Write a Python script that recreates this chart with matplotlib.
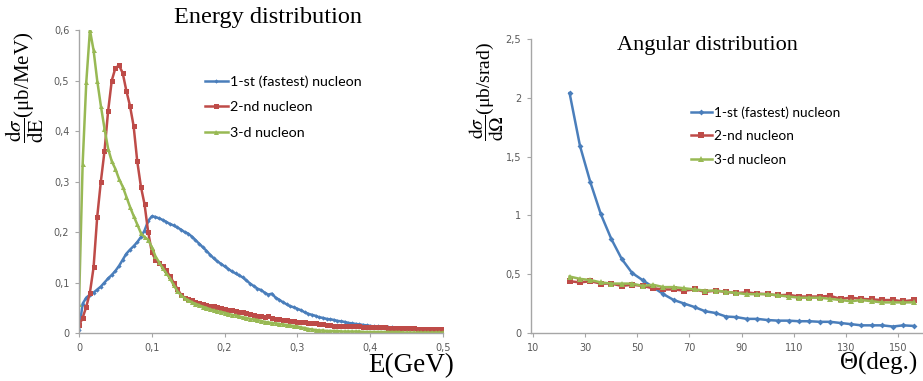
import numpy as np
import matplotlib
matplotlib.use("Agg")
import matplotlib.pyplot as plt

plt.rcParams["mathtext.fontset"] = "stix"

BLUE = "#4A7EBB"
RED = "#BE4B48"
GREEN = "#98B954"
AXIS_GRAY = "#A6A6A6"
TICK_TXT = "#595959"

series_names = ["1-st (fastest) nucleon", "2-nd nucleon", "3-d nucleon"]

# ---- energy distribution, 5 MeV bins from 0 to 0.5 GeV ----
energy_gev = np.round(np.arange(101) * 0.005, 3)

energy_first = [
    0.006, 0.058, 0.070, 0.076, 0.080, 0.086, 0.092, 0.100, 0.108, 0.115,
    0.123, 0.133, 0.145, 0.157, 0.165, 0.172, 0.180, 0.190, 0.203, 0.222,
    0.231, 0.230, 0.227, 0.224, 0.220, 0.216, 0.213, 0.209, 0.205, 0.200,
    0.197, 0.191, 0.184, 0.177, 0.170, 0.163, 0.155, 0.148, 0.142, 0.137,
    0.132, 0.127, 0.122, 0.118, 0.114, 0.110, 0.104, 0.098, 0.093, 0.088,
    0.085, 0.080, 0.076, 0.078, 0.070, 0.066, 0.061, 0.057, 0.053, 0.051,
    0.048, 0.045, 0.041, 0.038, 0.036, 0.034, 0.031, 0.030, 0.028, 0.027,
    0.026, 0.024, 0.023, 0.022, 0.020, 0.019, 0.018, 0.017, 0.016, 0.015,
    0.014, 0.013, 0.013, 0.012, 0.012, 0.011, 0.011, 0.010, 0.010, 0.010,
    0.009, 0.009, 0.009, 0.008, 0.008, 0.008, 0.007, 0.007, 0.007, 0.006,
    0.006,
]

energy_second = [
    0.015, 0.030, 0.052, 0.080, 0.130, 0.230, 0.300, 0.360, 0.440, 0.500,
    0.525, 0.530, 0.515, 0.480, 0.450, 0.410, 0.340, 0.290, 0.255, 0.200,
    0.160, 0.145, 0.138, 0.132, 0.124, 0.112, 0.100, 0.088, 0.076, 0.070,
    0.067, 0.065, 0.062, 0.060, 0.058, 0.056, 0.054, 0.053, 0.051, 0.050,
    0.048, 0.046, 0.045, 0.044, 0.042, 0.041, 0.040, 0.038, 0.036, 0.034,
    0.033, 0.032, 0.033, 0.030, 0.028, 0.027, 0.026, 0.025, 0.024, 0.023,
    0.022, 0.022, 0.021, 0.020, 0.020, 0.019, 0.018, 0.017, 0.016, 0.015,
    0.014, 0.014, 0.014, 0.014, 0.013, 0.013, 0.013, 0.013, 0.012, 0.012,
    0.012, 0.012, 0.011, 0.011, 0.011, 0.010, 0.010, 0.010, 0.010, 0.009,
    0.009, 0.009, 0.009, 0.008, 0.008, 0.008, 0.008, 0.007, 0.007, 0.007,
    0.007,
]

energy_third = [
    0.058, 0.335, 0.497, 0.600, 0.560, 0.500, 0.450, 0.405, 0.365, 0.340,
    0.325, 0.305, 0.290, 0.270, 0.250, 0.232, 0.215, 0.198, 0.190, 0.185,
    0.170, 0.152, 0.140, 0.128, 0.118, 0.108, 0.095, 0.083, 0.075, 0.069,
    0.065, 0.061, 0.058, 0.055, 0.052, 0.050, 0.047, 0.045, 0.043, 0.042,
    0.040, 0.038, 0.036, 0.035, 0.033, 0.031, 0.030, 0.028, 0.027, 0.026,
    0.024, 0.022, 0.021, 0.020, 0.019, 0.018, 0.017, 0.016, 0.015, 0.014,
    0.013, 0.011, 0.010, 0.008, 0.007, 0.006, 0.005, 0.005, 0.004, 0.004,
    0.004, 0.004, 0.003, 0.003, 0.003, 0.003, 0.003, 0.003, 0.002, 0.002,
    0.002, 0.002, 0.002, 0.002, 0.002, 0.002, 0.002, 0.002, 0.002, 0.001,
    0.001, 0.001, 0.001, 0.001, 0.001, 0.001, 0.001, 0.001, 0.001, 0.001,
    0.001,
]

# ---- angular distribution, 4 degree steps ----
theta_deg = [24, 28, 32, 36, 40, 44, 48, 52, 56, 60, 64, 68, 72, 76, 80, 84, 88,
             92, 96, 100, 104, 108, 112, 116, 120, 124, 128, 132, 136, 140, 144,
             148, 152, 156]

angular_first = [2.04, 1.59, 1.28, 1.01, 0.80, 0.63, 0.51, 0.45, 0.39, 0.33,
                 0.28, 0.25, 0.22, 0.185, 0.17, 0.14, 0.135, 0.12, 0.12, 0.11,
                 0.105, 0.105, 0.10, 0.10, 0.095, 0.095, 0.085, 0.075, 0.065,
                 0.065, 0.065, 0.055, 0.065, 0.06]

angular_second = [0.44, 0.43, 0.44, 0.42, 0.42, 0.40, 0.41, 0.40, 0.38, 0.37,
                  0.37, 0.36, 0.37, 0.35, 0.36, 0.35, 0.34, 0.345, 0.335, 0.33,
                  0.32, 0.325, 0.31, 0.31, 0.31, 0.315, 0.29, 0.30, 0.29, 0.285,
                  0.28, 0.28, 0.27, 0.28]

angular_third = [0.48, 0.46, 0.45, 0.43, 0.42, 0.42, 0.42, 0.40, 0.41, 0.39,
                 0.39, 0.38, 0.37, 0.36, 0.36, 0.35, 0.34, 0.33, 0.33, 0.33,
                 0.32, 0.31, 0.30, 0.30, 0.30, 0.29, 0.28, 0.27, 0.28, 0.27,
                 0.26, 0.26, 0.26, 0.26]

energy_ticks = [0, 0.1, 0.2, 0.3, 0.4, 0.5]
energy_yticks = [0, 0.1, 0.2, 0.3, 0.4, 0.5, 0.6]
angle_ticks = [10, 30, 50, 70, 90, 110, 130, 150]
angle_yticks = [0, 0.5, 1, 1.5, 2, 2.5]


def comma(v):
    s = ("%g" % v)
    return s.replace(".", ",")


def style_axes(ax):
    for side in ("top", "right"):
        ax.spines[side].set_visible(False)
    for side in ("left", "bottom"):
        ax.spines[side].set_color(AXIS_GRAY)
        ax.spines[side].set_linewidth(1.0)
    ax.tick_params(axis="both", direction="out", length=3, width=0.8,
                   color=AXIS_GRAY, labelcolor=TICK_TXT, labelsize=7, pad=4)


fig = plt.figure(figsize=(9.23, 3.81), dpi=100)

serif = ["Liberation Serif", "DejaVu Serif"]

# ---------------- energy panel ----------------
ax1 = fig.add_axes([0.0856, 0.126, 0.3944, 0.795])
style_axes(ax1)
line_kw = dict(linewidth=1.8, markeredgewidth=0)
ax1.plot(energy_gev, energy_first, color=BLUE, marker="D", markersize=2.2,
         label=series_names[0], **line_kw)
ax1.plot(energy_gev, energy_second, color=RED, marker="s", markersize=3.6,
         label=series_names[1], **line_kw)
ax1.plot(energy_gev, energy_third, color=GREEN, marker="^", markersize=3.6,
         label=series_names[2], **line_kw)
ax1.set_xlim(0, 0.5)
ax1.set_ylim(0, 0.6)
ax1.set_xticks(energy_ticks)
ax1.set_xticklabels([comma(v) for v in energy_ticks])
ax1.set_yticks(energy_yticks)
ax1.set_yticklabels([comma(v) for v in energy_yticks])
ax1.legend(loc="upper left", bbox_to_anchor=(0.33, 0.87), frameon=False,
           prop={"family": "Lato", "size": 10.3}, handlelength=1.6,
           handletextpad=0.15, labelspacing=0.95, borderaxespad=0)

fig.text(0.290, 0.955, "Energy distribution", ha="center", va="center",
         family=serif, fontsize=17.5)
fig.text(0.446, 0.040, "E(GeV)", ha="center", va="center",
         family=serif, fontsize=19.5)
fig.text(0.027, 0.77, r"$\dfrac{\mathrm{d}\sigma}{\mathrm{dE}}$(μb/MeV)",
         ha="center", va="center", rotation=90, family=serif, fontsize=15)

# ---------------- angular panel ----------------
ax2 = fig.add_axes([0.575, 0.126, 0.4236, 0.772])
style_axes(ax2)
ax2.plot(theta_deg, angular_first, color=BLUE, marker="D", markersize=3,
         label=series_names[0], **line_kw)
ax2.plot(theta_deg, angular_second, color=RED, marker="s", markersize=4.5,
         label=series_names[1], **line_kw)
ax2.plot(theta_deg, angular_third, color=GREEN, marker="^", markersize=4.5,
         label=series_names[2], **line_kw)
ax2.set_xlim(9.1, 159.1)
ax2.set_ylim(0, 2.5)
ax2.set_xticks(angle_ticks)
ax2.set_xticklabels([str(v) for v in angle_ticks])
ax2.set_yticks(angle_yticks)
ax2.set_yticklabels([comma(v) for v in angle_yticks])
ax2.legend(loc="upper left", bbox_to_anchor=(0.395, 0.79), frameon=False,
           prop={"family": "Lato", "size": 9.8}, handlelength=1.6,
           handletextpad=0.15, labelspacing=0.85, borderaxespad=0)

fig.text(0.7665, 0.880, "Angular distribution", ha="center", va="center",
         family=serif, fontsize=16)
fig.text(0.952, 0.045, "Θ(deg.)", ha="center", va="center",
         family=serif, fontsize=18)
fig.text(0.5275, 0.76, r"$\dfrac{\mathrm{d}\sigma}{\mathrm{d}\Omega}$(μb/srad)",
         ha="center", va="center", rotation=90, family=serif, fontsize=14)

fig.savefig("out.png", dpi=100)
